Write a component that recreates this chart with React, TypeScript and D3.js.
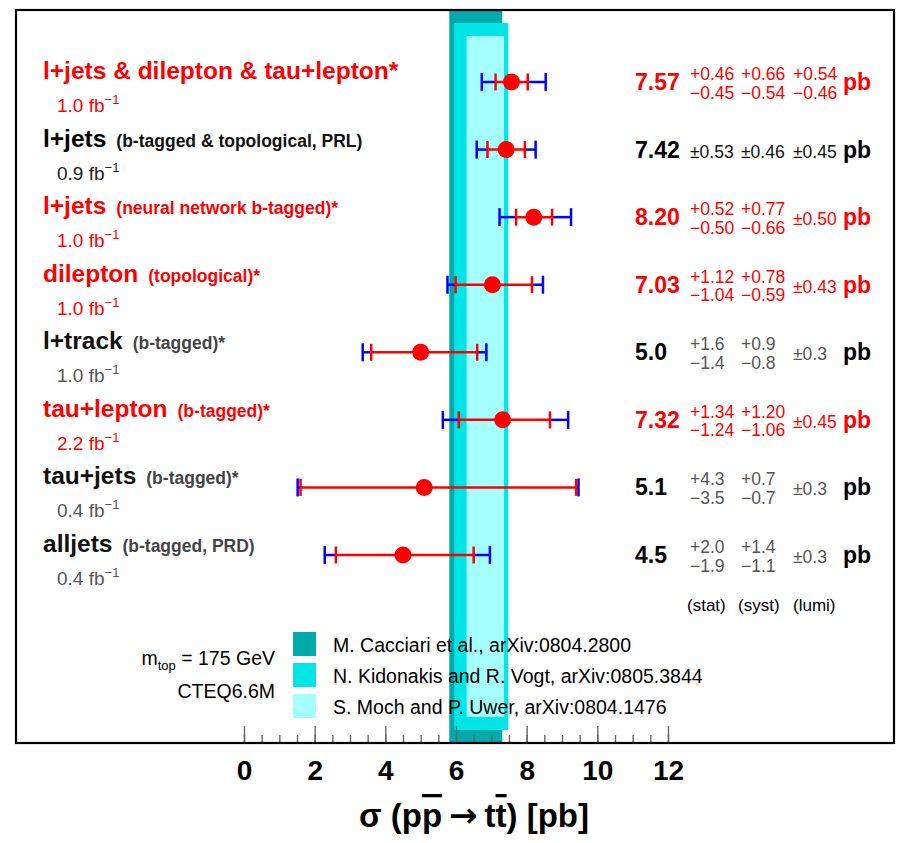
import React, { useEffect, useRef } from 'react';
import * as d3 from 'd3';

// measurements (pb)
const titles = ['l+jets & dilepton & tau+lepton*', 'l+jets', 'l+jets', 'dilepton', 'l+track', 'tau+lepton', 'tau+jets', 'alljets'];
const notes = ['', '(b-tagged & topological, PRL)', '(neural network b-tagged)*', '(topological)*', '(b-tagged)*', '(b-tagged)*', '(b-tagged)*', '(b-tagged, PRD)'];
const lumis = ['1.0', '0.9', '1.0', '1.0', '1.0', '2.2', '0.4', '0.4'];
const looks = ['red', 'black', 'red', 'red', 'gray', 'red', 'gray', 'gray'];
const valueLabels = ['7.57', '7.42', '8.20', '7.03', '5.0', '7.32', '5.1', '4.5'];
const values = [7.57, 7.42, 8.2, 7.03, 5.0, 7.32, 5.1, 4.5];
const statUp = [0.46, 0.53, 0.52, 1.12, 1.6, 1.34, 4.3, 2.0];
const statDn = [0.45, 0.53, 0.5, 1.04, 1.4, 1.24, 3.5, 1.9];
const systUp = [0.66, 0.46, 0.77, 0.78, 0.9, 1.2, 0.7, 1.4];
const systDn = [0.54, 0.46, 0.66, 0.59, 0.8, 1.06, 0.7, 1.1];
const lumiUp = [0.54, 0.45, 0.5, 0.43, 0.3, 0.45, 0.3, 0.3];
const lumiDn = [0.46, 0.45, 0.5, 0.43, 0.3, 0.45, 0.3, 0.3];
// which errors are quoted as ±x
const statPm = [false, true, false, false, false, false, false, false];
const systPm = [false, true, false, false, false, false, false, false];
const lumiPm = [false, true, true, true, true, true, true, true];

// theory predictions
const theoryNames = ['M. Cacciari et al., arXiv:0804.2800', 'N. Kidonakis and R. Vogt, arXiv:0805.3844', 'S. Moch and P. Uwer, arXiv:0804.1476'];
const theoryLo = [5.81, 5.95, 6.3];
const theoryHi = [7.31, 7.48, 7.36];
const theoryColors = ['#00aaaa', '#00e6e6', '#a6ffff'];

const errHeaders = ['(stat)', '(syst)', '(lumi)'];
const xTicks = [0, 2, 4, 6, 8, 10, 12];

const W = 899, H = 843;
const fL = 16, fT = 10, fR = 894, fB = 743;
const font = '"Liberation Sans", Arial, sans-serif';

const colorOf = {
  red: { title: '#ff0000', note: '#ff0000', sub: '#ff0000', value: '#ff0000', err: '#ff0000' },
  black: { title: '#000', note: '#111', sub: '#222', value: '#000', err: '#111' },
  gray: { title: '#111', note: '#444', sub: '#555', value: '#000', err: '#555' },
};

export default function App() {
  const axisRef = useRef<SVGGElement>(null);

  const x = d3.scaleLinear().domain([0, 12]).range([244, 668]);
  const y = d3.scalePoint<number>().domain(d3.range(titles.length)).range([82, 555]);

  useEffect(() => {
    const g = d3.select(axisRef.current);
    g.selectAll('*').remove();
    const minor = d3.axisBottom(x).tickValues(d3.range(0, 12.01, 0.5)).tickSize(-8).tickFormat(() => '');
    const major = d3.axisBottom(x).tickValues(xTicks).tickSize(-17).tickPadding(17).tickFormat(d3.format('d'));
    g.append('g').call(minor);
    g.append('g').call(major);
    g.selectAll('.domain').remove();
    g.selectAll('g').attr('font-family', font).attr('font-size', 28).attr('font-weight', 'bold');
    g.selectAll('line').attr('stroke', '#666').attr('stroke-width', 1.4);
  }, []);

  const colX = [690, 741, 793];

  const errCell = (up: number, dn: number, pm: boolean, dec: number, cx: number, cy: number, col: string, key: string) => {
    const f = d3.format(`.${dec}f`);
    if (pm) {
      return <text key={key} x={cx} y={cy + 8} fill={col} fontSize={17.5}>±{f(up)}</text>;
    }
    return (
      <g key={key}>
        <text x={cx} y={cy - 2} fill={col} fontSize={17.5}>+{f(up)}</text>
        <text x={cx} y={cy + 16.5} fill={col} fontSize={17.5}>−{f(dn)}</text>
      </g>
    );
  };

  return (
    <svg width={W} height={H} style={{ position: 'absolute', left: 0, top: 0 }} fontFamily={font}>
      <rect x={0} y={0} width={W} height={H} fill="#fff" />

      {/* theory bands */}
      {theoryNames.map((n, i) => (
        <rect key={n} x={x(theoryLo[i])} width={x(theoryHi[i]) - x(theoryLo[i])}
          y={fT + 13 * i} height={fB - fT - 13 * i * 2} fill={theoryColors[i]} />
      ))}

      {/* legend */}
      {theoryNames.map((n, i) => (
        <g key={n} transform={`translate(293, ${632 + 31 * i})`}>
          <rect width={23} height={24} fill={theoryColors[i]} />
          <text x={40} y={20} fontSize={19.5} fill="#000">{n}</text>
        </g>
      ))}
      <text x={275} y={665} textAnchor="end" fontSize={19.5} fill="#000">
        m<tspan fontSize={13} dy={5}>top</tspan><tspan dy={-5}> = 175 GeV</tspan>
      </text>
      <text x={275} y={698} textAnchor="end" fontSize={19.5} fill="#000">CTEQ6.6M</text>

      {/* measurements */}
      {values.map((v, i) => {
        const cy = y(i)!;
        const c = colorOf[looks[i]];
        const tUp = Math.hypot(statUp[i], systUp[i], lumiUp[i]);
        const tDn = Math.hypot(statDn[i], systDn[i], lumiDn[i]);
        const dec = valueLabels[i].split('.')[1].length;
        return (
          <g key={i}>
            <g stroke="#0000ff" strokeWidth={2.5}>
              <line x1={x(v - tDn)} x2={x(v - statDn[i])} y1={cy} y2={cy} />
              <line x1={x(v + statUp[i])} x2={x(v + tUp)} y1={cy} y2={cy} />
              <line x1={x(v - tDn)} x2={x(v - tDn)} y1={cy - 9} y2={cy + 9} />
              <line x1={x(v + tUp)} x2={x(v + tUp)} y1={cy - 9} y2={cy + 9} />
            </g>
            <g stroke="#ff0000" strokeWidth={2.5}>
              <line x1={x(v - statDn[i])} x2={x(v + statUp[i])} y1={cy} y2={cy} />
              <line x1={x(v - statDn[i])} x2={x(v - statDn[i])} y1={cy - 8.5} y2={cy + 8.5} />
              <line x1={x(v + statUp[i])} x2={x(v + statUp[i])} y1={cy - 8.5} y2={cy + 8.5} />
            </g>
            <circle cx={x(v)} cy={cy} r={8.5} fill="#ff0000" />

            <text x={43} y={cy - 3} fontWeight="bold">
              <tspan fontSize={24.5} fill={c.title}>{titles[i]}</tspan>
              {notes[i] && <tspan dx={10} fontSize={17.5} fill={c.note}>{notes[i]}</tspan>}
            </text>
            <text x={57} y={cy + 30} fontSize={19} fill={c.sub}>
              {lumis[i]} fb<tspan fontSize={13} dy={-8}>−1</tspan>
            </text>

            <text x={635} y={cy + 8} fontSize={23} fontWeight="bold" fill={c.value}>{valueLabels[i]}</text>
            {errCell(statUp[i], statDn[i], statPm[i], dec, colX[0], cy, c.err, 's')}
            {errCell(systUp[i], systDn[i], systPm[i], dec, colX[1], cy, c.err, 'y')}
            {errCell(lumiUp[i], lumiDn[i], lumiPm[i], dec, colX[2], cy, c.err, 'l')}
            <text x={843} y={cy + 8} fontSize={23} fontWeight="bold" fill={c.value}>pb</text>
          </g>
        );
      })}

      {errHeaders.map((h, i) => (
        <text key={h} x={[687, 738, 793][i]} y={611} fontSize={17} fill="#000">{h}</text>
      ))}

      {/* axis */}
      <g ref={axisRef} transform={`translate(0, ${fB})`} />

      {/* frame */}
      <rect x={fL} y={fT} width={fR - fL} height={fB - fT} fill="none" stroke="#000" strokeWidth={2.2} />

      <text x={474} y={827} textAnchor="middle" fontSize={33} fontWeight="bold" fill="#000">
        <tspan>σ (p</tspan><tspan style={{ textDecoration: 'overline' }}>p</tspan>
        <tspan fontFamily="DejaVu Sans" fontSize={34} dx={7}>→</tspan>
        <tspan dx={7}>t</tspan><tspan style={{ textDecoration: 'overline' }}>t</tspan><tspan>) [pb]</tspan>
      </text>
    </svg>
  );
}
